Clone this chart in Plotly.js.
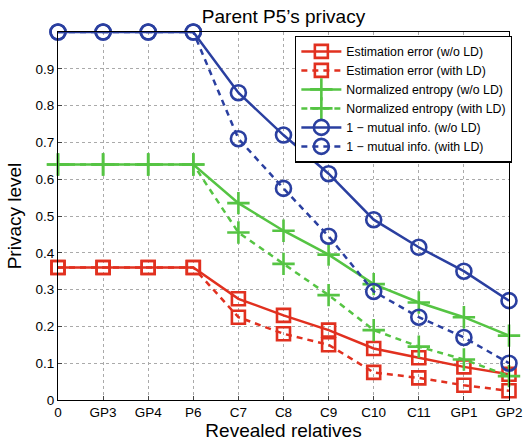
<!DOCTYPE html>
<html><head><meta charset="utf-8">
<script src="https://cdn.plot.ly/plotly-3.0.1.min.js"></script>
<style>html,body{margin:0;padding:0;background:#fff}#g{width:528px;height:441px}</style>
</head><body><div id="g"></div>
<script>
const categories = ["0","GP3","GP4","P6","C7","C8","C9","C10","C11","GP1","GP2"];
const estErrNoLD   = [0.36,0.36,0.36,0.36,0.275,0.23,0.19,0.14,0.115,0.09,0.07];
const estErrLD     = [0.36,0.36,0.36,0.36,0.225,0.18,0.15,0.075,0.06,0.04,0.025];
const entropyNoLD  = [0.64,0.64,0.64,0.64,0.535,0.46,0.395,0.315,0.265,0.225,0.175];
const entropyLD    = [0.64,0.64,0.64,0.64,0.455,0.37,0.285,0.19,0.145,0.11,0.065];
const mutualNoLD   = [1,1,1,1,0.835,0.72,0.615,0.49,0.415,0.35,0.27];
const mutualLD     = [1,1,1,1,0.71,0.575,0.445,0.295,0.225,0.17,0.1];
const yTicks = [0,0.1,0.2,0.3,0.4,0.5,0.6,0.7,0.8,0.9];

const RED="#e1301f", GREEN="#55c443", BLUE="#2a3fa0";
const xs = categories.map((c,i)=>i);
function tr(y,name,color,dash,sym,size){
  return {x:xs,y:y,name:name,type:"scatter",mode:"lines+markers",cliponaxis:false,
    line:{color:color,width:2.5,dash:dash},
    marker:{symbol:sym,size:size,color:color,line:{color:color,width:2.6}}};
}
const data=[
  tr(estErrNoLD,"Estimation error (w/o LD)",RED,"solid","square-open",13),
  tr(estErrLD,"Estimation error (with LD)",RED,"6px,5px","square-open",13),
  tr(entropyNoLD,"Normalized entropy (w/o LD)",GREEN,"solid","cross-thin-open",16),
  tr(entropyLD,"Normalized entropy (with LD)",GREEN,"6px,5px","cross-thin-open",16),
  tr(mutualNoLD,"1 − mutual info. (w/o LD)",BLUE,"solid","circle-open",15),
  tr(mutualLD,"1 − mutual info. (with LD)",BLUE,"6px,5px","circle-open",15)
];
const font="Liberation Sans, Arial, sans-serif";
const layout={
  width:528,height:441,
  margin:{l:58,r:19,t:32,b:41},
  paper_bgcolor:"#fff",plot_bgcolor:"#fff",
  font:{family:font,color:"#000",size:13},
  title:{text:"Parent P5’s privacy",font:{size:19,family:font},xref:"paper",x:0.5,xanchor:"center",y:0.962,yanchor:"middle"},
  showlegend:true,
  legend:{x:1.007,xanchor:"right",y:0.99,yanchor:"top",bgcolor:"#fff",bordercolor:"#000",borderwidth:1.2,
    font:{size:12.3,family:font},tracegroupgap:0,itemwidth:40},
  xaxis:{range:[0,10],tickmode:"array",tickvals:xs,ticktext:categories,
    showgrid:true,gridcolor:"#aaa",griddash:"dot",gridwidth:1,
    showline:true,linecolor:"#000",linewidth:1,mirror:true,ticks:"inside",ticklen:4,zeroline:false,
    tickfont:{size:13.5},
    title:{text:"Revealed relatives",font:{size:19},standoff:2}},
  yaxis:{range:[0,1],tickmode:"array",tickvals:yTicks,ticktext:yTicks.map(String),
    showgrid:true,gridcolor:"#aaa",griddash:"dot",gridwidth:1,
    showline:true,linecolor:"#000",linewidth:1,mirror:true,ticks:"inside",ticklen:4,zeroline:false,
    tickfont:{size:13.5},
    title:{text:"Privacy level",font:{size:19},standoff:8}}
};
Plotly.newPlot("g",data,layout,{displayModeBar:false,responsive:false});
</script></body></html>
